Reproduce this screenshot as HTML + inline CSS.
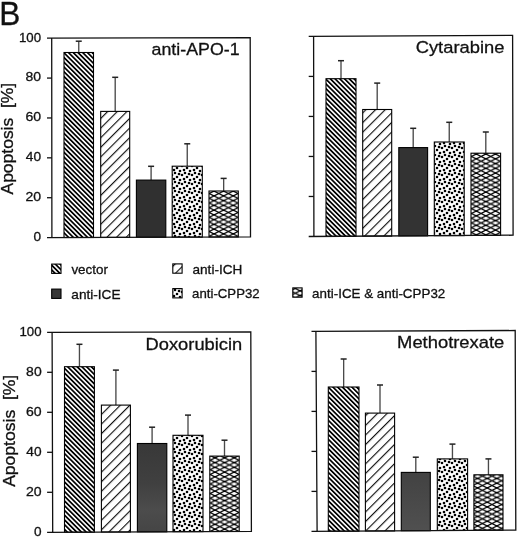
<!DOCTYPE html>
<html><head><meta charset="utf-8"><style>
html,body{margin:0;padding:0;background:#fff;overflow:hidden;}
svg{display:block;font-family:"Liberation Sans", sans-serif;will-change:transform;filter:blur(0.35px);}
text{fill:#111;stroke:#111;stroke-width:0.3px;}
</style></head><body>
<svg width="520" height="538" viewBox="0 0 520 538">

<defs>
 <linearGradient id="g4" x1="0" y1="0" x2="0" y2="1">
  <stop offset="0" stop-color="#424242"/><stop offset="1" stop-color="#505050"/>
 </linearGradient>
 <linearGradient id="g3" x1="0" y1="0" x2="0" y2="1">
  <stop offset="0" stop-color="#383838"/><stop offset="0.45" stop-color="#404040"/><stop offset="0.75" stop-color="#4c4c4c"/><stop offset="1" stop-color="#454545"/>
 </linearGradient>
 <pattern id="p1a" patternUnits="userSpaceOnUse" width="3.35" height="20" patternTransform="rotate(-45) translate(0.370 0)">
  <rect x="0" y="0" width="3.35" height="20" fill="#fff"/><rect x="0" y="0" width="1.72" height="20" fill="#000"/></pattern>
 <pattern id="p1b" patternUnits="userSpaceOnUse" width="3.35" height="20" patternTransform="rotate(-45) translate(-0.549 0)">
  <rect x="0" y="0" width="3.35" height="20" fill="#fff"/><rect x="0" y="0" width="1.72" height="20" fill="#000"/></pattern>
 <pattern id="p1c" patternUnits="userSpaceOnUse" width="3.35" height="20" patternTransform="rotate(-45) translate(2.096 0)">
  <rect x="0" y="0" width="3.35" height="20" fill="#fff"/><rect x="0" y="0" width="1.72" height="20" fill="#000"/></pattern>
 <pattern id="p1d" patternUnits="userSpaceOnUse" width="3.35" height="20" patternTransform="rotate(-45) translate(1.077 0)">
  <rect x="0" y="0" width="3.35" height="20" fill="#fff"/><rect x="0" y="0" width="1.72" height="20" fill="#000"/></pattern>
 <pattern id="p1L" patternUnits="userSpaceOnUse" width="3.35" height="20" patternTransform="rotate(-45) translate(2.280 0)">
  <rect x="0" y="0" width="3.35" height="20" fill="#fff"/><rect x="0" y="0" width="1.72" height="20" fill="#000"/></pattern>
 <pattern id="p2a" patternUnits="userSpaceOnUse" width="6.8" height="20" patternTransform="rotate(45) translate(4.834 0)">
  <rect x="0" y="0" width="6.8" height="20" fill="#fff"/><rect x="0" y="0" width="1.15" height="20" fill="#111"/></pattern>
 <pattern id="p2b" patternUnits="userSpaceOnUse" width="6.8" height="20" patternTransform="rotate(45) translate(2.572 0)">
  <rect x="0" y="0" width="6.8" height="20" fill="#fff"/><rect x="0" y="0" width="1.15" height="20" fill="#111"/></pattern>
 <pattern id="p2c" patternUnits="userSpaceOnUse" width="6.8" height="20" patternTransform="rotate(45) translate(3.809 0)">
  <rect x="0" y="0" width="6.8" height="20" fill="#fff"/><rect x="0" y="0" width="1.15" height="20" fill="#111"/></pattern>
 <pattern id="p2d" patternUnits="userSpaceOnUse" width="6.8" height="20" patternTransform="rotate(45) translate(1.087 0)">
  <rect x="0" y="0" width="6.8" height="20" fill="#fff"/><rect x="0" y="0" width="1.15" height="20" fill="#111"/></pattern>
 <pattern id="p2L" patternUnits="userSpaceOnUse" width="6.8" height="20" patternTransform="rotate(45) translate(3.950 0)">
  <rect x="0" y="0" width="6.8" height="20" fill="#fff"/><rect x="0" y="0" width="1.15" height="20" fill="#111"/></pattern>
 <pattern id="p4" patternUnits="userSpaceOnUse" width="10" height="9">
  <rect width="10" height="9" fill="#fff"/>
  <g fill="#000"><circle cx="0" cy="0" r="1.3"/><circle cx="0" cy="9" r="1.3"/><circle cx="10" cy="0" r="1.3"/><circle cx="10" cy="9" r="1.3"/><circle cx="5" cy="2" r="1.3"/><circle cx="-1" cy="3" r="1.3"/><circle cx="9" cy="3" r="1.3"/><circle cx="2" cy="4" r="1.3"/><circle cx="7" cy="6" r="1.3"/><circle cx="4" cy="-1" r="1.3"/><circle cx="4" cy="8" r="1.3"/></g>
 </pattern>
 <pattern id="p5a" patternUnits="userSpaceOnUse" width="9.6" height="4.75" patternTransform="translate(7.6 1.13)">
  <rect width="9.6" height="4.75" fill="#fff"/><path d="M-1 2.870 L10.6 -2.870 M-1 7.620 L10.6 1.880 M-1 -2.870 L10.6 2.870 M-1 1.880 L10.6 7.620" stroke="#000" stroke-width="1.2" fill="none"/></pattern>
 <pattern id="p5b" patternUnits="userSpaceOnUse" width="9.6" height="4.75" patternTransform="translate(1.08 2.08)">
  <rect width="9.6" height="4.75" fill="#fff"/><path d="M-1 2.870 L10.6 -2.870 M-1 7.620 L10.6 1.880 M-1 -2.870 L10.6 2.870 M-1 1.880 L10.6 7.620" stroke="#000" stroke-width="1.2" fill="none"/></pattern>
 <pattern id="p5c" patternUnits="userSpaceOnUse" width="9.6" height="4.75" patternTransform="translate(8.6 1.85)">
  <rect width="9.6" height="4.75" fill="#fff"/><path d="M-1 2.870 L10.6 -2.870 M-1 7.620 L10.6 1.880 M-1 -2.870 L10.6 2.870 M-1 1.880 L10.6 7.620" stroke="#000" stroke-width="1.2" fill="none"/></pattern>
 <pattern id="p5d" patternUnits="userSpaceOnUse" width="9.6" height="4.75" patternTransform="translate(2.4 3.45)">
  <rect width="9.6" height="4.75" fill="#fff"/><path d="M-1 2.870 L10.6 -2.870 M-1 7.620 L10.6 1.880 M-1 -2.870 L10.6 2.870 M-1 1.880 L10.6 7.620" stroke="#000" stroke-width="1.2" fill="none"/></pattern>
 <pattern id="p5L" patternUnits="userSpaceOnUse" width="9.6" height="4.75" patternTransform="translate(7.3 1.05)">
  <rect width="9.6" height="4.75" fill="#fff"/><path d="M-1 2.870 L10.6 -2.870 M-1 7.620 L10.6 1.880 M-1 -2.870 L10.6 2.870 M-1 1.880 L10.6 7.620" stroke="#000" stroke-width="1.2" fill="none"/></pattern>
</defs>

<line x1="78.75" y1="41.20" x2="78.75" y2="52.50" stroke="#4a4a4a" stroke-width="1.35"/>
<line x1="75.75" y1="41.20" x2="81.75" y2="41.20" stroke="#222" stroke-width="1.5"/>
<rect x="64.00" y="52.50" width="29.50" height="185.01" fill="url(#p1a)" stroke="#000" stroke-width="1.1"/>
<line x1="115.20" y1="77.30" x2="115.20" y2="111.40" stroke="#4a4a4a" stroke-width="1.35"/>
<line x1="112.20" y1="77.30" x2="118.20" y2="77.30" stroke="#222" stroke-width="1.5"/>
<rect x="100.70" y="111.40" width="29.00" height="125.98" fill="url(#p2a)" stroke="#000" stroke-width="1.1"/>
<line x1="151.10" y1="166.30" x2="151.10" y2="180.10" stroke="#4a4a4a" stroke-width="1.35"/>
<line x1="148.10" y1="166.30" x2="154.10" y2="166.30" stroke="#222" stroke-width="1.5"/>
<rect x="136.40" y="180.10" width="29.40" height="57.15" fill="#303030" stroke="#000" stroke-width="1.1"/>
<line x1="187.25" y1="143.80" x2="187.25" y2="166.20" stroke="#4a4a4a" stroke-width="1.35"/>
<line x1="184.25" y1="143.80" x2="190.25" y2="143.80" stroke="#222" stroke-width="1.5"/>
<rect x="172.20" y="166.20" width="30.10" height="70.92" fill="url(#p4)" stroke="#000" stroke-width="1.1"/>
<line x1="223.65" y1="178.40" x2="223.65" y2="191.00" stroke="#4a4a4a" stroke-width="1.35"/>
<line x1="220.65" y1="178.40" x2="226.65" y2="178.40" stroke="#222" stroke-width="1.5"/>
<rect x="209.00" y="191.00" width="29.30" height="45.99" fill="url(#p5a)" stroke="#000" stroke-width="1.1"/>
<path d="M47.00 38.20 L250.20 37.60 L250.50 236.90 L47.00 237.60 M51.70 38.20 L51.90 237.60" fill="none" stroke="#111" stroke-width="1.3"/>
<line x1="47.00" y1="78.08" x2="51.74" y2="78.08" stroke="#111" stroke-width="1.3"/>
<line x1="47.00" y1="117.96" x2="51.78" y2="117.96" stroke="#111" stroke-width="1.3"/>
<line x1="47.00" y1="157.84" x2="51.82" y2="157.84" stroke="#111" stroke-width="1.3"/>
<line x1="47.00" y1="197.72" x2="51.86" y2="197.72" stroke="#111" stroke-width="1.3"/>
<text x="18.91" y="41.60" font-size="13" textLength="22.10" lengthAdjust="spacingAndGlyphs" >100</text>
<text x="25.51" y="81.48" font-size="13" textLength="15.55" lengthAdjust="spacingAndGlyphs" >80</text>
<text x="25.40" y="121.36" font-size="13" textLength="15.67" lengthAdjust="spacingAndGlyphs" >60</text>
<text x="25.79" y="161.24" font-size="13" textLength="15.25" lengthAdjust="spacingAndGlyphs" >40</text>
<text x="25.40" y="201.12" font-size="13" textLength="15.67" lengthAdjust="spacingAndGlyphs" >20</text>
<text x="33.46" y="241.00" font-size="13" textLength="7.57" lengthAdjust="spacingAndGlyphs" >0</text>
<g transform="translate(13.30 0) rotate(-90)"><text x="-194.54" y="0.00" font-size="16.8" textLength="111.76" lengthAdjust="spacingAndGlyphs" style="white-space:pre">Apoptosis  [%]</text></g>
<text x="151.54" y="55.40" font-size="17.2" textLength="88.03" lengthAdjust="spacingAndGlyphs" >anti-APO-1</text>
<line x1="341.00" y1="60.70" x2="341.00" y2="78.70" stroke="#4a4a4a" stroke-width="1.35"/>
<line x1="338.00" y1="60.70" x2="344.00" y2="60.70" stroke="#222" stroke-width="1.5"/>
<rect x="326.00" y="78.70" width="30.00" height="157.62" fill="url(#p1b)" stroke="#000" stroke-width="1.1"/>
<line x1="377.20" y1="83.10" x2="377.20" y2="109.50" stroke="#4a4a4a" stroke-width="1.35"/>
<line x1="374.20" y1="83.10" x2="380.20" y2="83.10" stroke="#222" stroke-width="1.5"/>
<rect x="362.70" y="109.50" width="29.00" height="126.59" fill="url(#p2b)" stroke="#000" stroke-width="1.1"/>
<line x1="413.20" y1="128.30" x2="413.20" y2="147.60" stroke="#4a4a4a" stroke-width="1.35"/>
<line x1="410.20" y1="128.30" x2="416.20" y2="128.30" stroke="#222" stroke-width="1.5"/>
<rect x="398.80" y="147.60" width="28.80" height="88.25" fill="#333333" stroke="#000" stroke-width="1.1"/>
<line x1="449.25" y1="122.30" x2="449.25" y2="142.00" stroke="#4a4a4a" stroke-width="1.35"/>
<line x1="446.25" y1="122.30" x2="452.25" y2="122.30" stroke="#222" stroke-width="1.5"/>
<rect x="434.30" y="142.00" width="29.90" height="93.62" fill="url(#p4)" stroke="#000" stroke-width="1.1"/>
<line x1="485.80" y1="132.00" x2="485.80" y2="153.20" stroke="#4a4a4a" stroke-width="1.35"/>
<line x1="482.80" y1="132.00" x2="488.80" y2="132.00" stroke="#222" stroke-width="1.5"/>
<rect x="471.00" y="153.20" width="29.60" height="82.18" fill="url(#p5b)" stroke="#000" stroke-width="1.1"/>
<path d="M308.70 36.40 L512.60 35.40 L513.10 235.20 L308.70 236.50 M313.60 36.40 L313.90 236.50" fill="none" stroke="#111" stroke-width="1.3"/>
<line x1="308.70" y1="76.42" x2="313.66" y2="76.42" stroke="#111" stroke-width="1.3"/>
<line x1="308.70" y1="116.44" x2="313.72" y2="116.44" stroke="#111" stroke-width="1.3"/>
<line x1="308.70" y1="156.46" x2="313.78" y2="156.46" stroke="#111" stroke-width="1.3"/>
<line x1="308.70" y1="196.48" x2="313.84" y2="196.48" stroke="#111" stroke-width="1.3"/>
<text x="415.68" y="53.20" font-size="17.2" textLength="88.72" lengthAdjust="spacingAndGlyphs" >Cytarabine</text>
<line x1="79.45" y1="344.30" x2="79.45" y2="366.70" stroke="#4a4a4a" stroke-width="1.35"/>
<line x1="76.45" y1="344.30" x2="82.45" y2="344.30" stroke="#222" stroke-width="1.5"/>
<rect x="64.50" y="366.70" width="29.90" height="165.47" fill="url(#p1c)" stroke="#000" stroke-width="1.1"/>
<line x1="115.90" y1="370.10" x2="115.90" y2="405.10" stroke="#4a4a4a" stroke-width="1.35"/>
<line x1="112.90" y1="370.10" x2="118.90" y2="370.10" stroke="#222" stroke-width="1.5"/>
<rect x="101.40" y="405.10" width="29.00" height="126.88" fill="url(#p2c)" stroke="#000" stroke-width="1.1"/>
<line x1="152.10" y1="427.20" x2="152.10" y2="443.50" stroke="#4a4a4a" stroke-width="1.35"/>
<line x1="149.10" y1="427.20" x2="155.10" y2="427.20" stroke="#222" stroke-width="1.5"/>
<rect x="137.40" y="443.50" width="29.40" height="88.30" fill="url(#g3)" stroke="#000" stroke-width="1.1"/>
<line x1="188.00" y1="415.10" x2="188.00" y2="435.30" stroke="#4a4a4a" stroke-width="1.35"/>
<line x1="185.00" y1="415.10" x2="191.00" y2="415.10" stroke="#222" stroke-width="1.5"/>
<rect x="173.00" y="435.30" width="30.00" height="96.32" fill="url(#p4)" stroke="#000" stroke-width="1.1"/>
<line x1="224.50" y1="440.20" x2="224.50" y2="456.10" stroke="#4a4a4a" stroke-width="1.35"/>
<line x1="221.50" y1="440.20" x2="227.50" y2="440.20" stroke="#222" stroke-width="1.5"/>
<rect x="209.80" y="456.10" width="29.40" height="75.34" fill="url(#p5c)" stroke="#000" stroke-width="1.1"/>
<path d="M47.10 332.30 L250.80 331.80 L251.40 531.30 L47.10 532.30 M52.10 332.30 L52.70 532.30" fill="none" stroke="#111" stroke-width="1.3"/>
<line x1="47.10" y1="372.30" x2="52.22" y2="372.30" stroke="#111" stroke-width="1.3"/>
<line x1="47.10" y1="412.30" x2="52.34" y2="412.30" stroke="#111" stroke-width="1.3"/>
<line x1="47.10" y1="452.30" x2="52.46" y2="452.30" stroke="#111" stroke-width="1.3"/>
<line x1="47.10" y1="492.30" x2="52.58" y2="492.30" stroke="#111" stroke-width="1.3"/>
<text x="19.51" y="335.70" font-size="13" textLength="22.10" lengthAdjust="spacingAndGlyphs" >100</text>
<text x="26.11" y="375.70" font-size="13" textLength="15.55" lengthAdjust="spacingAndGlyphs" >80</text>
<text x="26.00" y="415.70" font-size="13" textLength="15.67" lengthAdjust="spacingAndGlyphs" >60</text>
<text x="26.39" y="455.70" font-size="13" textLength="15.25" lengthAdjust="spacingAndGlyphs" >40</text>
<text x="26.00" y="495.70" font-size="13" textLength="15.67" lengthAdjust="spacingAndGlyphs" >20</text>
<text x="34.06" y="535.70" font-size="13" textLength="7.57" lengthAdjust="spacingAndGlyphs" >0</text>
<g transform="translate(14.80 0) rotate(-90)"><text x="-486.84" y="0.00" font-size="16.8" textLength="112.07" lengthAdjust="spacingAndGlyphs" style="white-space:pre">Apoptosis  [%]</text></g>
<text x="145.59" y="349.60" font-size="17.2" textLength="96.61" lengthAdjust="spacingAndGlyphs" >Doxorubicin</text>
<line x1="343.65" y1="359.00" x2="343.65" y2="387.00" stroke="#4a4a4a" stroke-width="1.35"/>
<line x1="340.65" y1="359.00" x2="346.65" y2="359.00" stroke="#222" stroke-width="1.5"/>
<rect x="328.30" y="387.00" width="30.70" height="144.21" fill="url(#p1d)" stroke="#000" stroke-width="1.1"/>
<line x1="380.00" y1="385.00" x2="380.00" y2="413.10" stroke="#4a4a4a" stroke-width="1.35"/>
<line x1="377.00" y1="385.00" x2="383.00" y2="385.00" stroke="#222" stroke-width="1.5"/>
<rect x="365.40" y="413.10" width="29.20" height="117.86" fill="url(#p2d)" stroke="#000" stroke-width="1.1"/>
<line x1="415.80" y1="457.20" x2="415.80" y2="472.40" stroke="#4a4a4a" stroke-width="1.35"/>
<line x1="412.80" y1="457.20" x2="418.80" y2="457.20" stroke="#222" stroke-width="1.5"/>
<rect x="401.30" y="472.40" width="29.00" height="58.30" fill="url(#g4)" stroke="#000" stroke-width="1.1"/>
<line x1="452.45" y1="444.10" x2="452.45" y2="458.90" stroke="#4a4a4a" stroke-width="1.35"/>
<line x1="449.45" y1="444.10" x2="455.45" y2="444.10" stroke="#222" stroke-width="1.5"/>
<rect x="437.30" y="458.90" width="30.30" height="71.55" fill="url(#p4)" stroke="#000" stroke-width="1.1"/>
<line x1="488.45" y1="458.90" x2="488.45" y2="474.80" stroke="#4a4a4a" stroke-width="1.35"/>
<line x1="485.45" y1="458.90" x2="491.45" y2="458.90" stroke="#222" stroke-width="1.5"/>
<rect x="473.90" y="474.80" width="29.10" height="55.39" fill="url(#p5d)" stroke="#000" stroke-width="1.1"/>
<path d="M311.50 331.40 L515.20 330.50 L515.80 530.00 L311.50 531.40 M315.90 331.40 L317.10 531.40" fill="none" stroke="#111" stroke-width="1.3"/>
<line x1="311.50" y1="371.40" x2="316.14" y2="371.40" stroke="#111" stroke-width="1.3"/>
<line x1="311.50" y1="411.40" x2="316.38" y2="411.40" stroke="#111" stroke-width="1.3"/>
<line x1="311.50" y1="451.40" x2="316.62" y2="451.40" stroke="#111" stroke-width="1.3"/>
<line x1="311.50" y1="491.40" x2="316.86" y2="491.40" stroke="#111" stroke-width="1.3"/>
<text x="397.08" y="348.30" font-size="17.2" textLength="107.23" lengthAdjust="spacingAndGlyphs" >Methotrexate</text>
<rect x="51.70" y="264.10" width="9.30" height="9.30" fill="url(#p1L)" stroke="#000" stroke-width="1.1"/>
<text x="71.43" y="274.20" font-size="13" textLength="36.48" lengthAdjust="spacingAndGlyphs" >vector</text>
<rect x="172.80" y="263.90" width="9.30" height="9.30" fill="url(#p2L)" stroke="#000" stroke-width="1.1"/>
<text x="192.52" y="274.20" font-size="13" textLength="49.80" lengthAdjust="spacingAndGlyphs" >anti-ICH</text>
<rect x="51.70" y="289.10" width="9.30" height="9.30" fill="#383838" stroke="#000" stroke-width="1.1"/>
<text x="71.32" y="298.90" font-size="13" textLength="49.16" lengthAdjust="spacingAndGlyphs" >anti-ICE</text>
<rect x="172.80" y="288.60" width="9.30" height="9.30" fill="url(#p4)" stroke="#000" stroke-width="1.1"/>
<text x="192.14" y="298.30" font-size="13" textLength="67.54" lengthAdjust="spacingAndGlyphs" >anti-CPP32</text>
<rect x="292.80" y="287.90" width="9.30" height="9.30" fill="url(#p5L)" stroke="#000" stroke-width="1.1"/>
<text x="312.13" y="297.90" font-size="13" textLength="133.16" lengthAdjust="spacingAndGlyphs" >anti-ICE &amp; anti-CPP32</text>
<text transform="translate(-0.7 24.5) scale(0.93 1)" font-size="34" stroke="#111" stroke-width="1.0">B</text>
</svg>
</body></html>
